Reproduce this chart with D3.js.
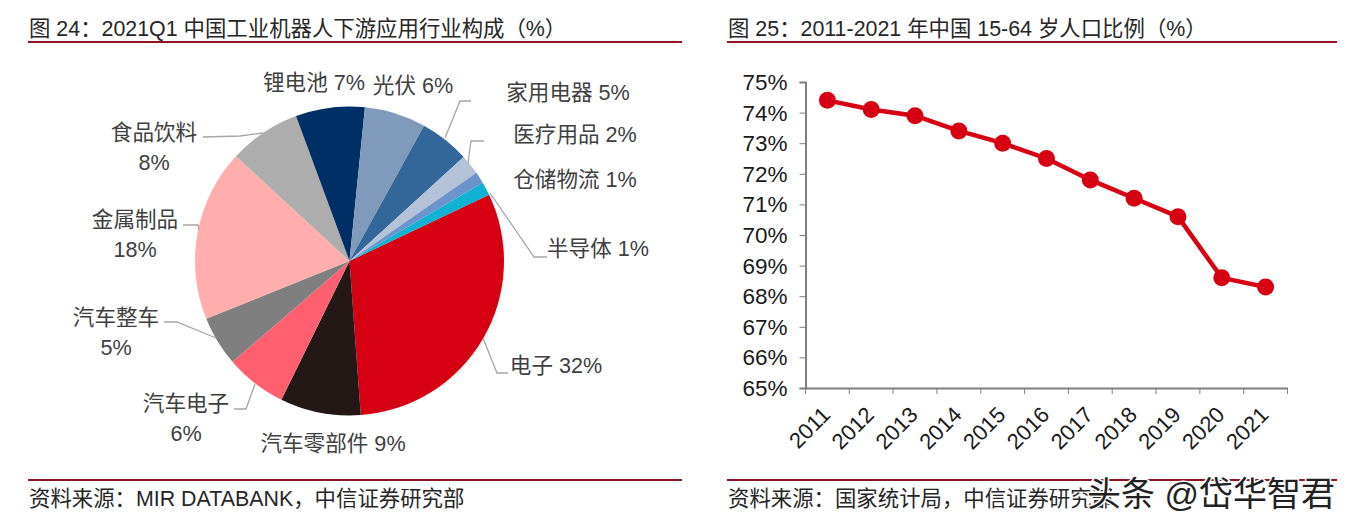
<!DOCTYPE html>
<html>
<head>
<meta charset="utf-8">
<script src="https://cdn.jsdelivr.net/npm/d3@7"></script>
<style>
  html, body { margin: 0; padding: 0; background: #fff; }
  text { font-family: "Liberation Sans", "Noto Sans CJK SC", sans-serif; }
</style>
</head>
<body>
<div id="container"></div>
<script>
'use strict';

// Pie data, clockwise from the 电子 slice. Shares are measured from the slices.
const pieNames = ['电子', '汽车零部件', '汽车电子', '汽车整车', '金属制品', '食品饮料', '锂电池', '光伏', '家用电器', '医疗用品', '仓储物流', '半导体'];
const pieShares = [30.8, 8.4, 6.4, 5.2, 17.9, 7.5, 7.2, 6.4, 5.2, 2.1, 1.2, 1.4];
const pieLabels = ['32%', '9%', '6%', '5%', '18%', '8%', '7%', '6%', '5%', '2%', '1%', '1%'];
const pieColors = ['#d60012', '#231815', '#ff5f6e', '#7f7f7f', '#ffadad', '#adadad', '#002f66', '#7f9aba', '#336699', '#b3c2d6', '#6c94cc', '#0fb2d2'];

// Line data.
const years = ['2011', '2012', '2013', '2014', '2015', '2016', '2017', '2018', '2019', '2020', '2021'];
const ratios = [74.4, 74.1, 73.9, 73.4, 73.0, 72.5, 71.8, 71.2, 70.6, 68.6, 68.3];
const ratioTicks = [65, 66, 67, 68, 69, 70, 71, 72, 73, 74, 75];

const w = 1351;
const h = 528;

const svg = d3.select('#container')
    .append('svg')
    .attr('width', w)
    .attr('height', h)
    .attr('viewBox', '0 0 ' + w + ' ' + h)
    .style('display', 'block');

// Panel titles and sources.
const ruleColor = '#8f1522';
function panelFrame(x0, x1, title, source) {
    svg.append('text')
        .attr('x', x0 + 1)
        .attr('y', 36)
        .attr('font-size', 21.4)
        .attr('fill', '#262626')
        .text(title);
    svg.append('line')
        .attr('x1', x0).attr('x2', x1)
        .attr('y1', 42).attr('y2', 42)
        .attr('stroke', ruleColor)
        .attr('stroke-width', 2);
    svg.append('line')
        .attr('x1', x0).attr('x2', x1)
        .attr('y1', 480).attr('y2', 480)
        .attr('stroke', ruleColor)
        .attr('stroke-width', 2);
    svg.append('text')
        .attr('x', x0 + 1)
        .attr('y', 506)
        .attr('font-size', 21.4)
        .attr('fill', '#262626')
        .text(source);
}
panelFrame(28, 682, '图 24：2021Q1 中国工业机器人下游应用行业构成（%）', '资料来源：MIR DATABANK，中信证券研究部');
panelFrame(727, 1337, '图 25：2011-2021 年中国 15-64 岁人口比例（%）', '资料来源：国家统计局，中信证券研究部');

// Pie.
const pieCx = 349.5;
const pieCy = 261;
const pieR = 154.5;
const pieStart = 64.6 * Math.PI / 180;

const pie = d3.pie()
    .sort(null)
    .startAngle(pieStart)
    .endAngle(pieStart + 2 * Math.PI);
const arc = d3.arc().innerRadius(0).outerRadius(pieR);

svg.append('g')
    .attr('transform', 'translate(' + pieCx + ',' + pieCy + ')')
    .selectAll('path')
    .data(pie(pieShares))
    .enter()
    .append('path')
    .attr('d', arc)
    .attr('fill', (d, i) => pieColors[i]);

// Label placement per slice: text lines and leader lines, same order as pieNames.
const labelLayout = [
    { x: 556, y: 372.5, oneLine: true, leader: [[508, 373], [497, 373], [483, 338]] },
    { x: 333, y: 451, oneLine: true },
    { x: 186, y: 411, leader: [[234, 409], [246, 409], [255, 384]] },
    { x: 116, y: 325, leader: [[164, 322], [177, 322], [216, 338]] },
    { x: 135, y: 227, leader: [[183, 225], [198, 225], [199, 230]] },
    { x: 154, y: 140, leader: [[203, 137], [240, 136], [263, 133]] },
    { x: 314, y: 90, oneLine: true },
    { x: 413, y: 93, oneLine: true },
    { x: 568, y: 100, oneLine: true, leader: [[471, 101], [460, 101], [445, 138]] },
    { x: 575, y: 142, oneLine: true, leader: [[484, 141], [471, 141], [468, 163]] },
    { x: 575, y: 187, oneLine: true },
    { x: 598, y: 256, oneLine: true, leader: [[547, 257], [534, 257], [490, 193]] }
];

const labelColor = '#404040';
const labelSize = 21.6;
const leaderLine = d3.line();
labelLayout.forEach((l, i) => {
    if (l.leader) {
        svg.append('path')
            .attr('d', leaderLine(l.leader))
            .attr('fill', 'none')
            .attr('stroke', '#a6a6a6')
            .attr('stroke-width', 1.3);
    }
    const t = svg.append('text')
        .attr('x', l.x)
        .attr('y', l.y)
        .attr('text-anchor', 'middle')
        .attr('font-size', labelSize)
        .attr('fill', labelColor);
    if (l.oneLine) {
        t.text(pieNames[i] + ' ' + pieLabels[i]);
    } else {
        t.text(pieNames[i]);
        svg.append('text')
            .attr('x', l.x)
            .attr('y', l.y + 29.5)
            .attr('text-anchor', 'middle')
            .attr('font-size', labelSize)
            .attr('fill', labelColor)
            .text(pieLabels[i]);
    }
});

// Line chart scales and axes.
const xScale = d3.scaleBand()
    .domain(years)
    .range([805.5, 1287.5]);
const yScale = d3.scaleLinear()
    .domain([65, 75])
    .range([388, 82]);

const axisColor = '#7f7f7f';
const xAxis = d3.axisBottom(xScale).tickSize(0);
const yAxis = d3.axisLeft(yScale)
    .tickValues(ratioTicks)
    .tickSize(6)
    .tickFormat(d => d + '%');

const gy = svg.append('g')
    .attr('transform', 'translate(805.5,0)')
    .call(yAxis);
gy.select('.domain').attr('stroke', axisColor).attr('stroke-width', 2);
gy.selectAll('.tick line').attr('stroke', axisColor).attr('stroke-width', 1);
gy.selectAll('text')
    .attr('font-size', 22.5)
    .attr('font-family', '"Liberation Sans", sans-serif')
    .attr('fill', '#1a1a1a')
    .attr('x', -18)
    .attr('dy', '0.33em');

const gx = svg.append('g')
    .attr('transform', 'translate(0,388)')
    .call(xAxis);
gx.select('.domain').attr('stroke', axisColor).attr('stroke-width', 2);
gx.selectAll('.tick text')
    .attr('font-size', 22)
    .attr('font-family', '"Liberation Sans", sans-serif')
    .attr('fill', '#1a1a1a')
    .attr('text-anchor', 'end')
    .attr('transform', 'translate(-7,17) rotate(-45)')
    .attr('dy', '0.72em')
    .attr('y', 0);

// Category boundary ticks sit between the bands, below the axis line.
svg.append('g')
    .selectAll('line')
    .data(years.concat(['end']))
    .enter()
    .append('line')
    .attr('x1', (d, i) => xScale.range()[0] + i * xScale.step())
    .attr('x2', (d, i) => xScale.range()[0] + i * xScale.step())
    .attr('y1', 388)
    .attr('y2', 394)
    .attr('stroke', axisColor)
    .attr('stroke-width', 1);

const lineColor = '#d60012';
const ratioLine = d3.line()
    .x((d, i) => xScale(years[i]) + xScale.bandwidth() / 2)
    .y(d => yScale(d));

svg.append('path')
    .datum(ratios)
    .attr('d', ratioLine)
    .attr('fill', 'none')
    .attr('stroke', lineColor)
    .attr('stroke-width', 4.5);

svg.append('g')
    .selectAll('circle')
    .data(ratios)
    .enter()
    .append('circle')
    .attr('cx', (d, i) => xScale(years[i]) + xScale.bandwidth() / 2)
    .attr('cy', d => yScale(d))
    .attr('r', 8.5)
    .attr('fill', lineColor);

// Watermark over the lower right corner.
svg.append('text')
    .attr('x', 1087)
    .attr('y', 506)
    .attr('font-size', 34)
    .attr('fill', '#222')
    .attr('stroke', '#fff')
    .attr('stroke-width', 3)
    .attr('paint-order', 'stroke')
    .text('头条 @岱华智君');
</script>
</body>
</html>
